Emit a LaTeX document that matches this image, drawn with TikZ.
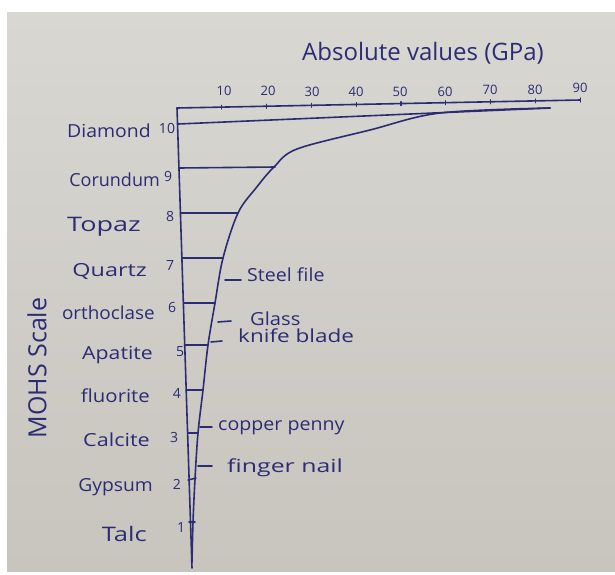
\documentclass[tikz,border=0pt]{standalone}
\usepackage{fontspec}
\setmainfont{Open Sans}
\definecolor{ink}{HTML}{2C2C74}
\definecolor{papertop}{HTML}{D8D7D2}
\definecolor{paperbot}{HTML}{C8C4BE}
\begin{document}
\begin{tikzpicture}[x=1pt,y=-1pt,
  inkline/.style={draw=ink,line width=1.6pt,line cap=round,line join=round},
  minlbl/.style={text=ink,font=\fontsize{18}{18}\selectfont,inner sep=0pt,anchor=base east},
  numlbl/.style={text=ink,font=\fontsize{14}{14}\selectfont,inner sep=0pt},
  notelbl/.style={text=ink,font=\fontsize{18}{18}\selectfont,inner sep=0pt,anchor=base west},
  ticklbl/.style={text=ink,font=\fontsize{13}{13}\selectfont,inner sep=0pt}]
\useasboundingbox (0,0) rectangle (615,574);
\fill[white] (0,0) rectangle (615,574);
\shade[top color=papertop,bottom color=paperbot] (7,12) rectangle (615,571);

% axes
\coordinate (o) at (177,108);
\coordinate (xend) at (580,100);
\coordinate (yend) at (192,568);
\draw[inkline] (o) -- (xend);
\draw[inkline] (o) -- (yend);
\foreach \i in {1,...,9}{
  \draw[inkline,line width=1.2pt] ({177+\i*44.8},{108-\i*0.889-2}) -- ({177+\i*44.8},{108-\i*0.889+2});
}
\node[ticklbl] (t10) at (224,91) {10};
\node[ticklbl] (t20) at (268,91) {20};
\node[ticklbl] (t30) at (312,92) {30};
\node[ticklbl] (t40) at (356,92) {40};
\node[ticklbl] (t50) at (400,92) {50};
\node[ticklbl] (t60) at (445,92) {60};
\node[ticklbl] (t70) at (490,90) {70};
\node[ticklbl] (t80) at (535,90) {80};
\node[ticklbl] (t90) at (580,88) {90};
\node[text=ink,font=\fontsize{24}{24}\selectfont,inner sep=0pt] (title) at (423,53) {Absolute values (GPa)};
\node[text=ink,font=\fontsize{25}{25}\selectfont,inner sep=0pt,rotate=90] (mohs) at (37,368) {MOHS Scale};

% curve
\draw[inkline] plot[smooth,tension=0.55] coordinates {(192,562) (193,522) (195,479) (198,433) (203,390) (208,345) (215,303) (223,258) (238,213) (256,188) (274,167) (297,149) (370,130) (440,113) (550,108)};

% level lines
\draw[inkline] (178,124) -- (550,108);
\draw[inkline] (179,168) -- (275,167);
\draw[inkline] (180.4,213) -- (238,213);
\draw[inkline] (181.9,258) -- (223,258);
\draw[inkline] (183.4,303) -- (215,303);
\draw[inkline] (184.7,345) -- (208,345);
\draw[inkline] (186.2,390) -- (203,390);
\draw[inkline] (187.6,433) -- (198,433);
\draw[inkline] (188,480) -- (196,478);
\draw[inkline] (189,522) -- (195,522);

% mineral names
\node[minlbl] (diamond) at (151,137) {\scalebox{1.08}[1]{Diamond}};
\node[minlbl] (corundum) at (160,186) {Corundum};
\node[minlbl,font=\fontsize{20}{20}\selectfont] (topaz) at (141,231) {\scalebox{1.35}[1]{Topaz}};
\node[minlbl] (quartz) at (147,276) {\scalebox{1.3}[1]{Quartz}};
\node[minlbl] (ortho) at (155,319) {\scalebox{1.05}[1]{orthoclase}};
\node[minlbl] (apatite) at (153,359) {\scalebox{1.18}[1]{Apatite}};
\node[minlbl] (fluorite) at (150,402) {\scalebox{1.13}[1]{fluorite}};
\node[minlbl] (calcite) at (150,446) {\scalebox{1.2}[1]{Calcite}};
\node[minlbl] (gypsum) at (153,491) {\scalebox{1.07}[1]{Gypsum}};
\node[minlbl,font=\fontsize{20}{20}\selectfont] (talc) at (147,541) {\scalebox{1.28}[1]{Talc}};

\node[numlbl] (n10) at (167,128) {10};
\node[numlbl] (n9) at (168,176) {9};
\node[numlbl] (n8) at (170,216) {8};
\node[numlbl] (n7) at (170,265) {7};
\node[numlbl] (n6) at (172,307) {6};
\node[numlbl] (n5) at (180,352) {5};
\node[numlbl] (n4) at (177,393) {4};
\node[numlbl] (n3) at (174,437) {3};
\node[numlbl] (n2) at (177,484) {2};
\node[numlbl] (n1) at (181,527) {1};

% notes
\draw[inkline] (225,280) -- (241,280);
\node[notelbl] (steel) at (247,281) {\scalebox{1.09}[1]{Steel file}};
\draw[inkline] (218,322) -- (231,321);
\node[notelbl] (glass) at (250,325) {\scalebox{1.12}[1]{Glass}};
\draw[inkline] (211,342) -- (222,341);
\node[notelbl] (knife) at (238,342) {\scalebox{1.25}[1]{knife blade}};
\draw[inkline] (200,427) -- (212,427);
\node[notelbl] (copper) at (218,430) {\scalebox{1.09}[1]{copper penny}};
\draw[inkline] (198,466) -- (212,466);
\node[notelbl] (finger) at (227,472) {\scalebox{1.38}[1]{finger nail}};
\end{tikzpicture}
\end{document}
